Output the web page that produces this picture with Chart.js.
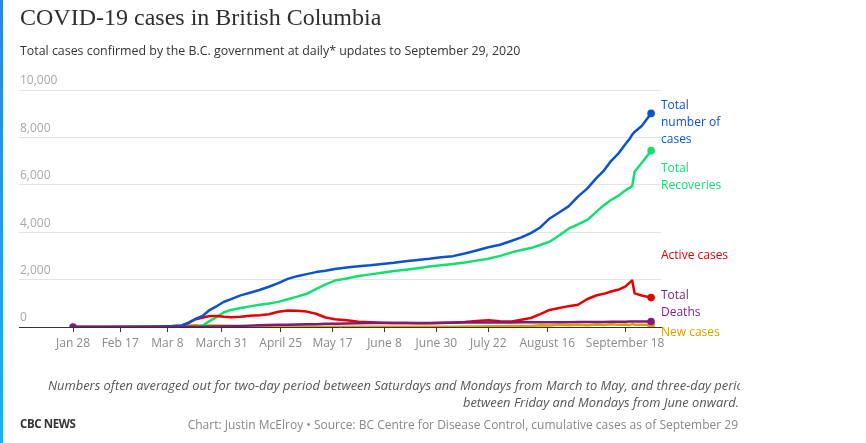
<!DOCTYPE html>
<html>
<head>
<meta charset="utf-8">
<script src="https://cdn.jsdelivr.net/npm/chart.js@4"></script>
<style>
  body { margin: 0; background: #fff; font-family: 'Open Sans', sans-serif; }
  #wrap { position: relative; width: 866px; height: 443px; overflow: hidden; }
  #bar { position: absolute; left: 0; top: 0; width: 3px; height: 443px; background: linear-gradient(#2a86e6, #18b2f5); }
  canvas { position: absolute; left: 0; top: 0; }
  .t { position: absolute; white-space: nowrap; }
  #title { left: 20px; top: 4px; font-family: 'Liberation Serif', serif; font-size: 24px; color: #2e2e2e; letter-spacing: 0; }
  #sub { left: 20px; top: 42px; font-size: 12.4px; color: #333; }
  .lab { font-size: 12px; line-height: 17px; left: 661px; }
  #note1 { left: 48px; top: 376px; width: 692px; overflow: hidden; font-style: italic; font-size: 12.9px; color: #555; }
  #note2 { right: 127px; top: 393px; font-style: italic; font-size: 12.9px; color: #555; }
  #cbc { left: 20px; top: 416px; font-size: 11.5px; font-weight: 700; color: #333; letter-spacing: -0.4px; }
  #src { right: 128px; top: 416px; font-size: 12px; color: #888; }
</style>
</head>
<body>
<div id="wrap">
  <div id="bar"></div>
  <canvas id="myChart" width="866" height="443"></canvas>
  <div class="t" id="title">COVID-19 cases in British Columbia</div>
  <div class="t" id="sub">Total cases confirmed by the B.C. government at daily* updates to September 29, 2020</div>
  <div class="t lab" style="top:96px;color:#0c52cc">Total<br>number of<br>cases</div>
  <div class="t lab" style="top:159px;color:#12df70">Total<br>Recoveries</div>
  <div class="t lab" style="top:246px;color:#e60000">Active cases</div>
  <div class="t lab" style="top:286px;color:#7d1a7d">Total<br>Deaths</div>
  <div class="t lab" style="top:323px;color:#dc9e00">New cases</div>
  <div class="t" id="note1">Numbers often averaged out for two-day period between Saturdays and Mondays from March to May, and three-day period</div>
  <div class="t" id="note2">between Friday and Mondays from June onward.</div>
  <div class="t" id="cbc">CBC NEWS</div>
  <div class="t" id="src">Chart: Justin McElroy &bull; Source: BC Centre for Disease Control, cumulative cases as of September 29</div>
</div>
<script>
const dates = ['2020-01-28', '2020-02-10', '2020-02-24', '2020-03-05', '2020-03-10', '2020-03-14', '2020-03-17', '2020-03-20',
    '2020-03-23', '2020-03-26', '2020-03-29', '2020-04-01', '2020-04-04', '2020-04-08', '2020-04-12', '2020-04-16',
    '2020-04-20', '2020-04-24', '2020-04-28', '2020-05-02', '2020-05-06', '2020-05-10', '2020-05-14', '2020-05-18',
    '2020-05-23', '2020-05-28', '2020-06-02', '2020-06-07', '2020-06-12', '2020-06-17', '2020-06-22', '2020-06-27',
    '2020-07-02', '2020-07-07', '2020-07-12', '2020-07-17', '2020-07-22', '2020-07-27', '2020-08-01', '2020-08-05',
    '2020-08-09', '2020-08-13', '2020-08-17', '2020-08-21', '2020-08-25', '2020-08-29', '2020-09-02', '2020-09-06',
    '2020-09-09', '2020-09-12', '2020-09-15', '2020-09-18', '2020-09-20', '2020-09-21', '2020-09-22', '2020-09-25',
    '2020-09-29'];

const totalCases = [1, 4, 7, 21, 39, 64, 186, 348,
    472, 725, 884, 1066, 1174, 1336, 1445, 1561,
    1699, 1853, 2030, 2145, 2232, 2316, 2376, 2446,
    2507, 2560, 2601, 2659, 2709, 2775, 2822, 2878,
    2947, 2990, 3100, 3230, 3362, 3470, 3641, 3780,
    3960, 4200, 4580, 4830, 5090, 5500, 5850, 6300,
    6600, 7000, 7300, 7700, 7950, 8120, 8230, 8480,
    9013];

const recoveries = [0, 0, 0, 0, 0, 0, 0, 0,
    60, 260, 430, 620, 720, 800, 870, 935,
    990, 1060, 1170, 1280, 1400, 1600, 1800, 1960,
    2050, 2150, 2220, 2290, 2360, 2420, 2480, 2550,
    2610, 2660, 2720, 2800, 2880, 3000, 3150, 3250,
    3330, 3460, 3600, 3860, 4150, 4330, 4520, 4880,
    5140, 5360, 5530, 5760, 5880, 5950, 6550, 6920,
    7440];

const activeCases = [0, 2, 5, 15, 30, 55, 170, 330,
    400, 460, 460, 430, 410, 430, 470, 500,
    540, 640, 700, 690, 650, 560, 400, 330,
    280, 225, 200, 180, 170, 165, 160, 160,
    170, 190, 210, 250, 290, 240, 230, 310,
    380, 540, 720, 800, 880, 940, 1180, 1340,
    1400, 1500, 1570, 1700, 1880, 1960, 1420, 1330,
    1240];

const deaths = [0, 0, 0, 0, 1, 1, 7, 8,
    13, 17, 19, 31, 35, 43, 58, 69,
    81, 94, 100, 108, 114, 121, 132, 141,
    149, 161, 164, 167, 168, 168, 170, 174,
    177, 183, 189, 190, 191, 194, 195, 196,
    198, 200, 202, 204, 205, 208, 210, 213,
    215, 220, 222, 224, 227, 227, 227, 231,
    234];

const newCases = [0, 0, 1, 3, 5, 18, 60, 75,
    45, 60, 60, 50, 55, 30, 25, 30,
    35, 30, 20, 25, 20, 15, 8, 12,
    10, 8, 10, 12, 12, 14, 10, 14,
    15, 10, 25, 25, 30, 30, 40, 45,
    40, 75, 60, 90, 75, 100, 70, 110,
    80, 120, 95, 110, 80, 120, 95, 100,
    80];

const tickDates = ['2020-01-28', '2020-02-17', '2020-03-08', '2020-03-31', '2020-04-25', '2020-05-17',
    '2020-06-08', '2020-06-30', '2020-07-22', '2020-08-16', '2020-09-18'];
const tickLabels = ['Jan 28', 'Feb 17', 'Mar 8', 'March 31', 'April 25', 'May 17',
    'June 8', 'June 30', 'July 22', 'August 16', 'September 18'];

// days since Jan 28
function dayNum(d) {
    return (Date.parse(d) - Date.parse('2020-01-28')) / 86400000;
}
const tickDays = tickDates.map(dayNum);

function points(values) {
    return values.map((v, i) => ({ x: dayNum(dates[i]), y: v }));
}

const last = dates.length - 1;
function series(label, values, color, order, startDot) {
    return {
        label: label,
        data: points(values),
        borderColor: color,
        backgroundColor: color,
        borderWidth: 2.5,
        borderJoinStyle: 'round',
        pointRadius: c => (c.dataIndex === last || (startDot && c.dataIndex === 0)) ? 3.8 : 0,
        pointBorderWidth: 0,
        pointHoverRadius: 0,
        tension: 0,
        order: order
    };
}

const ctx = document.getElementById('myChart');
new Chart(ctx, {
    type: 'line',
    data: {
        datasets: [
            series('Total number of cases', totalCases, '#0c52cc', 1, false),
            series('Total Recoveries', recoveries, '#12df70', 3, false),
            series('Active cases', activeCases, '#e60000', 2, false),
            series('Total Deaths', deaths, '#7d1a7d', 0, true),
            series('New cases', newCases, '#dc9e00', 4, false)
        ]
    },
    options: {
        responsive: false,
        animation: false,
        layout: {
            padding: { left: 19, right: 205, top: 90, bottom: 86 }
        },
        plugins: {
            legend: { display: false },
            tooltip: { enabled: false }
        },
        scales: {
            x: {
                type: 'linear',
                min: -22.9,
                max: 249.2,
                afterBuildTicks: s => { s.ticks = tickDays.map(v => ({ value: v })); },
                afterFit: s => { s.height = 30; },
                ticks: {
                    autoSkip: false,
                    maxRotation: 0,
                    padding: 4,
                    color: '#8a8a8a',
                    font: { family: 'Open Sans', size: 12 },
                    callback: (v, i) => tickLabels[i]
                },
                grid: {
                    drawOnChartArea: false,
                    tickLength: 5,
                    color: '#333'
                },
                border: { display: true, color: '#333', width: 1 }
            },
            y: {
                min: 0,
                max: 10000,
                afterFit: s => { s.width = 0; },
                ticks: {
                    stepSize: 2000,
                    mirror: true,
                    padding: 1,
                    labelOffset: -9,
                    color: '#a8a8a8',
                    font: { family: 'Open Sans', size: 12 },
                    callback: v => v.toLocaleString('en-US')
                },
                grid: { color: '#e4e4e4', drawTicks: false },
                border: { display: false }
            }
        }
    }
});
</script>
</body>
</html>
